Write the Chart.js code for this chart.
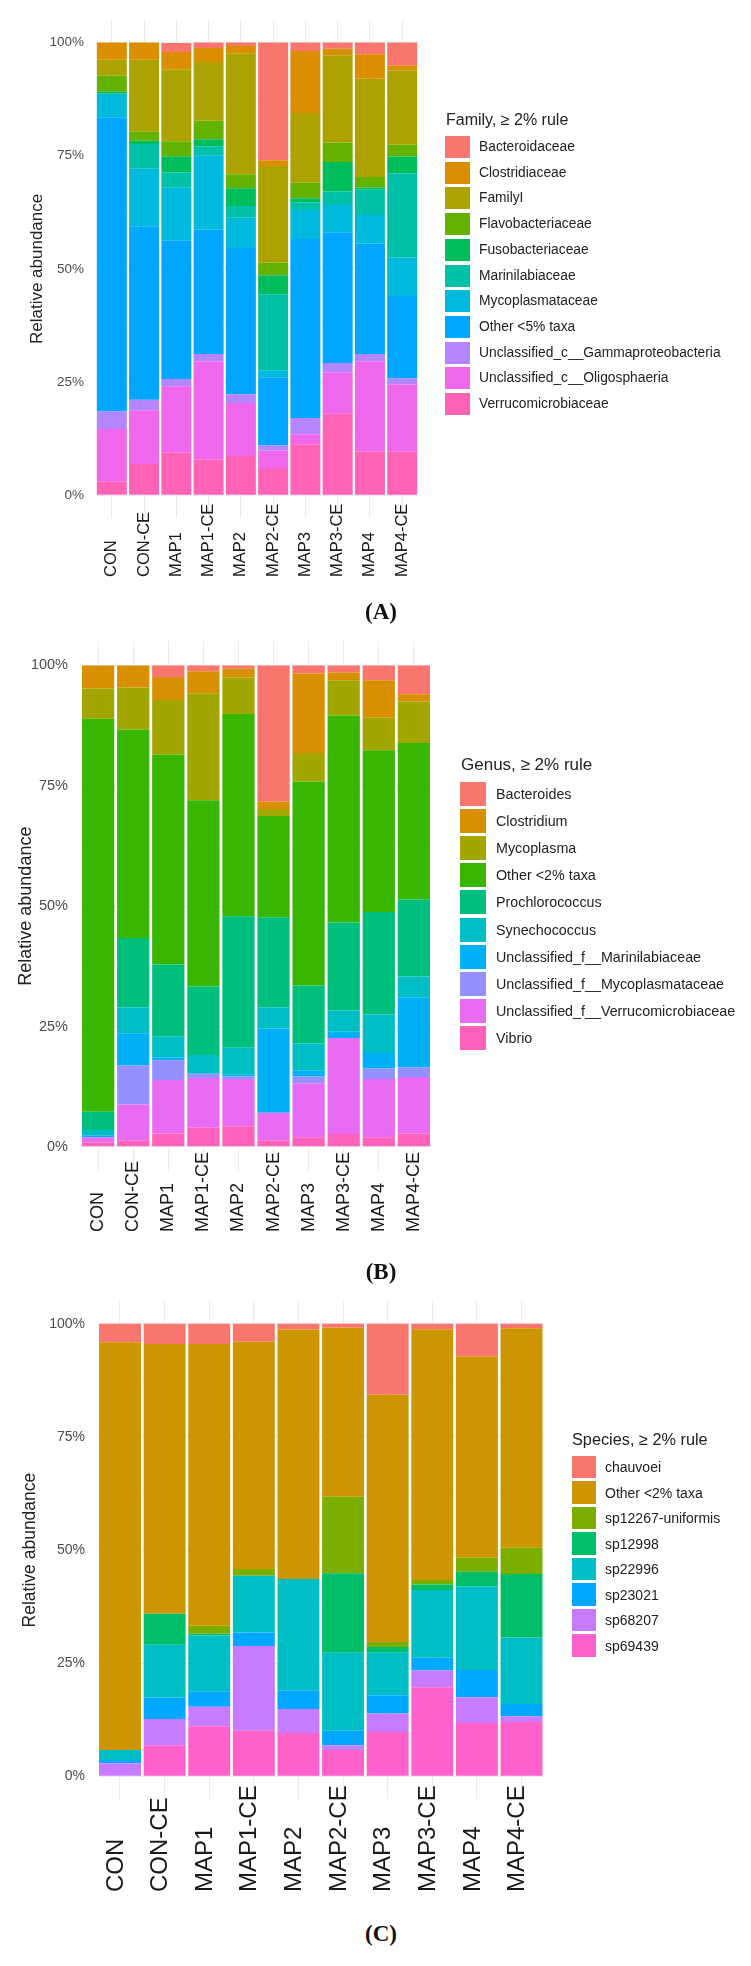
<!DOCTYPE html>
<html>
<head>
<meta charset="utf-8">
<title>Relative abundance – Family / Genus / Species</title>
<script src="https://cdn.jsdelivr.net/npm/chart.js@4.4.1/dist/chart.umd.min.js"></script>
<style>
  body { margin: 0; background: #fff; }
  #page { position: relative; width: 751px; height: 1966px; overflow: hidden; font-family: 'Liberation Sans', Arial, sans-serif; }
  #page canvas { position: absolute; left: 0; }
  .lg-title, .lg-label { position: absolute; white-space: nowrap; color: #222; transform: translateY(-50%); line-height: 1; }
  .lg-key { position: absolute; }
  .tag { position: absolute; font-family: 'Liberation Serif', 'Times New Roman', serif; font-weight: bold; font-size: 23px; color: #111; transform: translate(-50%, -50%); }
</style>
</head>
<body>
<div id="page">
  <canvas id="chartA" width="751" height="590" style="top:0px"></canvas>
  <canvas id="chartB" width="751" height="620" style="top:620px"></canvas>
  <canvas id="chartC" width="751" height="640" style="top:1280px"></canvas>
  <div class="tag" style="left:381px;top:612px">(A)</div>
  <div class="tag" style="left:381px;top:1272px">(B)</div>
  <div class="tag" style="left:381px;top:1934px">(C)</div>
  <div id="legends"></div>
</div>
<script>
(function () {
  'use strict';

  // samples on the x axis (same for all three panels)
  const samples = ['CON', 'CON-CE', 'MAP1', 'MAP1-CE', 'MAP2', 'MAP2-CE', 'MAP3', 'MAP3-CE', 'MAP4', 'MAP4-CE'];

  const yGridValues = [0, 12.5, 25, 37.5, 50, 62.5, 75, 87.5, 100];
  const yTickValues = [0, 25, 50, 75, 100];
  const yTickLabels = ['0%', '25%', '50%', '75%', '100%'];

  // (A) family level, % per sample
  const familyNames = ['Bacteroidaceae', 'Clostridiaceae', 'FamilyI', 'Flavobacteriaceae', 'Fusobacteriaceae',
    'Marinilabiaceae', 'Mycoplasmataceae', 'Other <5% taxa', 'Unclassified_c__Gammaproteobacteria',
    'Unclassified_c__Oligosphaeria', 'Verrucomicrobiaceae'];
  const familyColors = ['#F8766D', '#DB8E00', '#AEA200', '#64B200', '#00BD5C', '#00C1A7', '#00BADE', '#00A6FF', '#B385FF', '#EF67EB', '#FF63B6'];
  const famBacteroidaceae = [0, 0, 2.0, 1.2, 0.8, 26.0, 1.9, 1.4, 2.6, 5.1];
  const famClostridiaceae = [3.8, 3.8, 3.8, 3.1, 1.6, 1.3, 13.7, 1.4, 5.4, 1.1];
  const famFamilyI = [3.5, 15.9, 15.9, 13.0, 26.7, 21.3, 15.4, 19.3, 21.7, 16.4];
  const famFlavobacteriaceae = [3.6, 2.0, 3.3, 4.1, 3.1, 2.8, 3.4, 4.3, 2.3, 2.6];
  const famFusobacteriaceae = [0.3, 0.7, 3.6, 1.5, 3.9, 4.2, 0.9, 6.5, 0.5, 3.7];
  const famMarinilabiaceae = [0.4, 5.5, 3.4, 2.1, 2.6, 16.8, 1.7, 3.0, 5.6, 18.6];
  const famMycoplasmataceae = [4.9, 12.7, 11.7, 16.3, 6.7, 1.5, 6.4, 6.0, 6.3, 8.5];
  const famOther = [65.0, 38.3, 30.5, 27.5, 32.3, 15.1, 39.5, 28.9, 24.4, 18.2];
  const famGammaproteobacteria = [3.85, 2.3, 1.6, 1.6, 1.9, 1.1, 3.6, 2.0, 1.6, 1.3];
  const famOligosphaeria = [11.65, 11.9, 14.7, 21.7, 11.7, 4.1, 2.2, 9.2, 19.9, 14.8];
  const famVerrucomicrobiaceae = [3.0, 6.9, 9.4, 7.9, 8.7, 5.8, 11.3, 18.0, 9.7, 9.7];

  // (B) genus level
  const genusNames = ['Bacteroides', 'Clostridium', 'Mycoplasma', 'Other <2% taxa', 'Prochlorococcus', 'Synechococcus',
    'Unclassified_f__Marinilabiaceae', 'Unclassified_f__Mycoplasmataceae', 'Unclassified_f__Verrucomicrobiaceae', 'Vibrio'];
  const genusColors = ['#F8766D', '#D89000', '#A3A500', '#39B600', '#00BF7D', '#00BFC4', '#00B0F6', '#9590FF', '#E76BF3', '#FF62BC'];
  const genBacteroides = [0, 0, 2.4, 1.2, 0.7, 28.3, 1.7, 1.5, 3.1, 6.0];
  const genClostridium = [4.8, 4.6, 4.8, 4.6, 1.8, 1.5, 16.5, 1.6, 7.8, 1.5];
  const genMycoplasma = [6.3, 8.7, 11.3, 22.2, 7.6, 1.5, 5.9, 7.3, 6.7, 8.6];
  const genOther = [81.6, 43.3, 43.6, 38.7, 42.0, 21.0, 42.4, 43.0, 33.6, 32.5];
  const genProchlorococcus = [3.8, 14.4, 14.9, 14.2, 27.3, 18.7, 12.0, 18.2, 21.3, 16.0];
  const genSynechococcus = [1.2, 5.4, 4.4, 3.9, 5.6, 4.4, 5.7, 4.5, 8.0, 4.3];
  const genMarinilabiaceae = [0.3, 6.7, 0.6, 0, 0.4, 17.5, 1.2, 1.3, 3.2, 14.6];
  const genMycoplasmataceae = [0, 8.1, 4.1, 0.9, 0.5, 0, 1.4, 0, 2.2, 2.0];
  const genVerrucomicrobiaceae = [1.1, 7.4, 11.1, 10.3, 9.8, 5.7, 11.2, 19.9, 12.1, 11.7];
  const genVibrio = [0.9, 1.4, 2.8, 4.0, 4.3, 1.4, 2.0, 2.7, 2.0, 2.8];

  // (C) species level
  const speciesNames = ['chauvoei', 'Other <2% taxa', 'sp12267-uniformis', 'sp12998', 'sp22996', 'sp23021', 'sp68207', 'sp69439'];
  const speciesColors = ['#F8766D', '#CD9600', '#7CAE00', '#00BE67', '#00BFC4', '#00A9FF', '#C77CFF', '#FF61CC'];
  const spChauvoei = [4.1, 4.5, 4.5, 4.0, 1.3, 0.9, 15.7, 1.2, 7.2, 1.0];
  const spOther = [90.1, 59.6, 62.2, 50.2, 55.1, 37.3, 54.6, 55.4, 44.5, 48.5];
  const sp12267 = [0, 0, 1.8, 1.5, 0, 16.9, 1.1, 1.0, 3.1, 5.8];
  const sp12998 = [0, 6.8, 0.4, 0, 0, 17.6, 1.3, 1.2, 3.2, 14.0];
  const sp22996 = [2.2, 11.7, 12.3, 12.5, 24.6, 17.2, 9.4, 15.0, 18.5, 14.7];
  const sp23021 = [0.7, 4.7, 3.4, 3.0, 4.1, 3.2, 4.0, 2.8, 6.0, 2.7];
  const sp68207 = [2.9, 5.8, 4.3, 18.7, 5.3, 1.1, 4.1, 3.7, 5.7, 1.3];
  const sp69439 = [0, 6.9, 11.1, 10.1, 9.6, 5.8, 9.8, 19.7, 11.8, 12.0];

  const familySeries = [famBacteroidaceae, famClostridiaceae, famFamilyI, famFlavobacteriaceae, famFusobacteriaceae,
    famMarinilabiaceae, famMycoplasmataceae, famOther, famGammaproteobacteria, famOligosphaeria, famVerrucomicrobiaceae];
  const genusSeries = [genBacteroides, genClostridium, genMycoplasma, genOther, genProchlorococcus, genSynechococcus,
    genMarinilabiaceae, genMycoplasmataceae, genVerrucomicrobiaceae, genVibrio];
  const speciesSeries = [spChauvoei, spOther, sp12267, sp12998, sp22996, sp23021, sp68207, sp69439];

  const FONT = "'Liberation Sans', Arial, sans-serif";

  // rotated sample names, aligned at their start (bottom), like the ggplot output
  const xLabelPlugin = {
    id: 'xLabels',
    afterDraw(chart, args, opts) {
      const ctx = chart.ctx;
      const xs = chart.scales.x;
      ctx.save();
      ctx.fillStyle = '#1a1a1a';
      ctx.font = opts.size + 'px ' + FONT;
      ctx.textAlign = 'left';
      ctx.textBaseline = 'middle';
      chart.data.labels.forEach((lab, i) => {
        ctx.save();
        ctx.translate(xs.getPixelForValue(i) + opts.dx, opts.bottom);
        ctx.rotate(-Math.PI / 2);
        ctx.fillText(lab, 0, 0);
        ctx.restore();
      });
      ctx.restore();
    }
  };

  function makeChart(p) {
    const canvas = document.getElementById(p.id);
    const H = canvas.height;
    const datasets = p.names.map((name, i) => ({
      label: name,
      data: p.series[i],
      backgroundColor: p.colors[i],
      borderWidth: 0,
      barPercentage: p.barPct,
      categoryPercentage: 1
    })).reverse(); // first legend entry sits on top of the stack

    return new Chart(canvas.getContext('2d'), {
      type: 'bar',
      data: { labels: samples, datasets: datasets },
      plugins: [xLabelPlugin],
      options: {
        responsive: false,
        animation: false,
        events: [],
        layout: { padding: { left: 0, right: canvas.width - p.area.right, top: p.area.top, bottom: H - p.area.bottom } },
        plugins: {
          legend: { display: false },
          tooltip: { enabled: false },
          xLabels: { size: p.labelSize, bottom: p.labelBottom, dx: p.labelDx }
        },
        scales: {
          x: {
            stacked: true,
            offset: true,
            border: { display: false },
            grid: { offset: false, color: '#ebebeb', lineWidth: 1.1, drawTicks: false },
            ticks: { display: false },
            afterFit: s => { s.height = 0; }
          },
          y: {
            stacked: true,
            min: -5,
            max: 105,
            border: { display: false },
            afterBuildTicks: s => { s.ticks = yGridValues.map(v => ({ value: v })); },
            afterFit: s => { s.width = p.area.left; },
            grid: {
              drawTicks: false,
              color: c => (yTickValues.includes(c.tick.value) ? '#ebebeb' : '#f3f3f3'),
              lineWidth: c => (yTickValues.includes(c.tick.value) ? 1.1 : 0.6)
            },
            ticks: {
              padding: p.tickPad,
              color: '#4d4d4d',
              font: { family: FONT, size: p.tickSize },
              autoSkip: false,
              callback: v => { const k = yTickValues.indexOf(v); return k >= 0 ? yTickLabels[k] : ''; }
            },
            title: {
              display: true,
              text: 'Relative abundance',
              color: '#222',
              font: { family: FONT, size: p.titleSize },
              padding: { top: p.titleX - p.titleSize * 0.6, bottom: 0 }
            }
          }
        }
      }
    });
  }

  function buildLegend(title, names, colors, L) {
    const host = document.getElementById('legends');
    let html = '<div class="lg-title" style="left:' + L.titleLeft + 'px;top:' + L.titleY + 'px;font-size:' + L.titleSize + 'px">' + title + '</div>';
    names.forEach((n, i) => {
      const cy = L.firstY + i * L.pitch;
      html += '<div class="lg-key" style="left:' + L.keyLeft + 'px;top:' + (cy - L.keyH / 2) + 'px;width:' + L.keyW +
        'px;height:' + L.keyH + 'px;background:' + colors[i] + '"></div>';
      html += '<div class="lg-label" style="left:' + L.textLeft + 'px;top:' + cy + 'px;font-size:' + L.textSize + 'px">' +
        n.replace(/</g, '&lt;') + '</div>';
    });
    host.insertAdjacentHTML('beforeend', html);
  }

  const panels = [
    {
      id: 'chartA', names: familyNames, colors: familyColors, series: familySeries,
      area: { left: 95.7, right: 418.3, top: 10, bottom: 518 },
      barPct: 0.93, tickSize: 13.5, tickPad: 11.7, titleSize: 17, titleX: 37,
      labelSize: 16.5, labelBottom: 577, labelDx: 0,
      legendTitle: 'Family, \u2265 2% rule',
      legend: { titleLeft: 446, titleY: 120, titleSize: 16, keyLeft: 445, keyW: 25, keyH: 22, firstY: 147, pitch: 25.7, textLeft: 479, textSize: 13.8 }
    },
    {
      id: 'chartB', names: genusNames, colors: genusColors, series: genusSeries,
      area: { left: 80.6, right: 431.4, top: 17, bottom: 551 },
      barPct: 0.92, tickSize: 14.5, tickPad: 12.6, titleSize: 18, titleX: 26,
      labelSize: 18, labelBottom: 612, labelDx: 0,
      legendTitle: 'Genus, \u2265 2% rule',
      legend: { titleLeft: 461, titleY: 764, titleSize: 17, keyLeft: 460, keyW: 26, keyH: 24, firstY: 794, pitch: 27.1, textLeft: 496, textSize: 14.3 }
    },
    {
      id: 'chartC', names: speciesNames, colors: speciesColors, series: speciesSeries,
      area: { left: 97.7, right: 543.8, top: 12, bottom: 519 },
      barPct: 0.94, tickSize: 14, tickPad: 12.7, titleSize: 17.5, titleX: 30,
      labelSize: 24, labelBottom: 612, labelDx: -4,
      legendTitle: 'Species, \u2265 2% rule',
      legend: { titleLeft: 572, titleY: 1439, titleSize: 16.3, keyLeft: 572, keyW: 24, keyH: 22.5, firstY: 1467, pitch: 25.5, textLeft: 605, textSize: 14 }
    }
  ];

  panels.forEach(p => {
    makeChart(p);
    buildLegend(p.legendTitle, p.names, p.colors, p.legend);
  });
})();
</script>
</body>
</html>
